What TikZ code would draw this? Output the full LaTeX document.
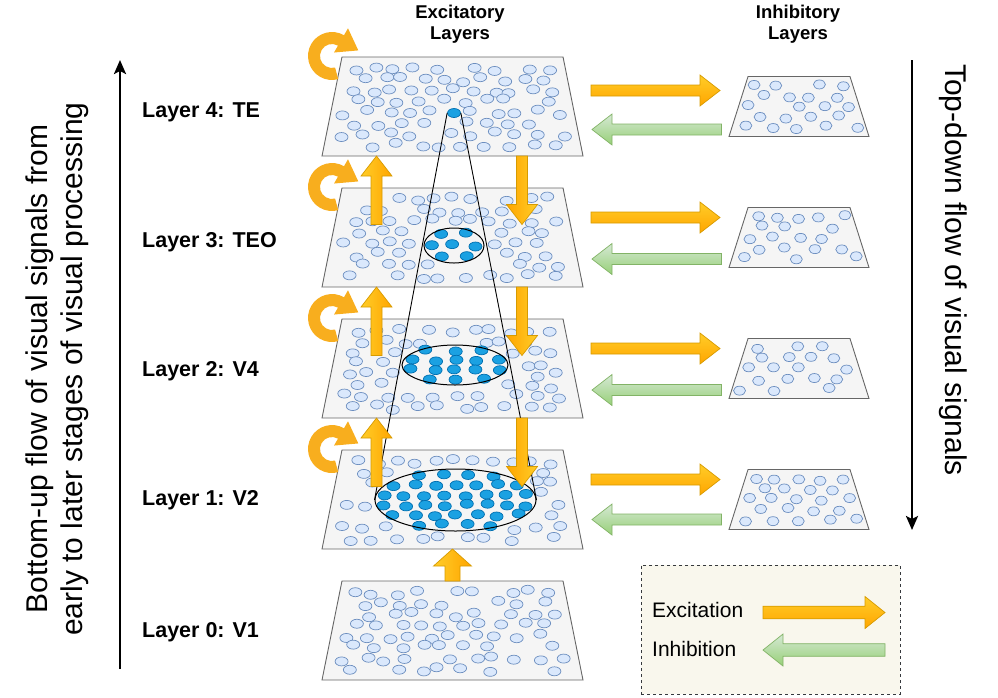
\documentclass[tikz,border=0pt]{standalone}
\usepackage{fontspec}
\setmainfont{Liberation Sans}
\usetikzlibrary{shapes.geometric, arrows.meta, positioning, calc}
\definecolor{planefill}{HTML}{F5F5F5}
\definecolor{planeline}{HTML}{666666}
\definecolor{cellfill}{HTML}{DAE8FC}
\definecolor{cellline}{HTML}{6C8EBF}
\definecolor{hotfill}{HTML}{1BA1E2}
\definecolor{hotline}{HTML}{006EAF}
\definecolor{exlight}{HTML}{FFCD28}
\definecolor{exdark}{HTML}{FFA500}
\definecolor{exline}{HTML}{D79B00}
\definecolor{inhlight}{HTML}{D5E8D4}
\definecolor{inhdark}{HTML}{97D077}
\definecolor{inhline}{HTML}{82B366}
\definecolor{loopgold}{HTML}{F8AE1E}
\definecolor{legendfill}{HTML}{F9F7ED}
\definecolor{legendline}{HTML}{36393D}

% block arrow from #2 to #3
\def\shaftw{5.5pt}\def\headw{15.5pt}\def\headl{20pt}
\newcommand{\fatarrow}[3][excite]{%
  \coordinate (fah) at ($(#3)!\headl!(#2)$);
  \draw[#1] ($(#2)!\shaftw!90:(#3)$) -- ($(fah)!\shaftw!90:(#3)$) -- ($(fah)!\headw!90:(#3)$) -- (#3)
    -- ($(fah)!\headw!-90:(#3)$) -- ($(fah)!\shaftw!-90:(#3)$) -- ($(#2)!\shaftw!-90:(#3)$) -- cycle;}

% curved self arrow
\newcommand{\selfloop}[1]{%
  \fill[loopfill, shift={#1}] (75:24) arc[start angle=75, end angle=300, radius=24] -- (300:32)
    -- ($(300:18)+(17.3,10)$) -- (300:4) -- (300:12) arc[start angle=300, end angle=75, radius=12] -- cycle;}

% neurons of an excitatory layer: cx, top, focus cx, focus cy, rx, ry, seed
\newcommand{\planedots}[7]{%
  \pgfmathsetseed{#7}
  \foreach \row in {0,...,7} {
    \foreach \col in {0,...,10} {
      \pgfmathsetmacro{\py}{#2+11.5+\row*11+3*rand}
      \pgfmathsetmacro{\hw}{93.5+20*(\py-#2)/99}
      \pgfmathsetmacro{\px}{#1-\hw+(\col+0.5*mod(\row,2))*\hw/5+5*rand}
      \pgfmathsetmacro{\ux}{(\px-#3)/100}
      \pgfmathsetmacro{\uy}{(\py-#4)/100}
      \pgfmathsetmacro{\ax}{(#5+7)/100}
      \pgfmathsetmacro{\ay}{(#6+5)/100}
      \pgfmathtruncatemacro{\clear}{(\ux*\ux*\ay*\ay+\uy*\uy*\ax*\ax>\ax*\ax*\ay*\ay)*(1-and(mod(\row,2)==1,\col==10))}
      \pgfmathtruncatemacro{\keep}{rnd<0.88}
      \ifnum\clear\keep=11 \draw[cell] (\px,\py) ellipse[x radius=6.5, y radius=4.5]; \fi
    }
  }}

% active neurons inside a receptive field: cx, cy, rx, ry, seed
\newcommand{\hotdots}[5]{%
  \pgfmathsetseed{#5}
  \pgfmathtruncatemacro{\nr}{floor(2*(#4-6)/9)+1}
  \pgfmathsetmacro{\rs}{2*(#4-6)/(\nr-1)}
  \foreach \row in {1,...,\nr} {
    \pgfmathsetmacro{\dy}{-(#4-6)+(\row-1)*\rs}
    \pgfmathsetmacro{\hw}{(#3-9)*sqrt(max(0,1-(\dy/(#4-2))^2))}
    \pgfmathtruncatemacro{\nc}{floor(2*\hw/19)+1}
    \pgfmathsetmacro{\cs}{2*\hw/max(\nc-1,1)}
    \foreach \col in {1,...,\nc} {
      \pgfmathsetmacro{\px}{#1+((\col-1)-(\nc-1)/2)*\cs+2.5*rand}
      \pgfmathsetmacro{\py}{#2+\dy+1.5*rand}
      \draw[hotcell] (\px,\py) ellipse[x radius=6.5, y radius=4.5];
    }
  }}

% neurons of an inhibitory layer: cx, top, seed
\newcommand{\inhibdots}[3]{%
  \pgfmathsetseed{#3}
  \foreach \row in {0,...,4} {
    \foreach \col in {0,...,4} {
      \pgfmathsetmacro{\py}{#2+9.5+\row*10.3+2*rand}
      \pgfmathsetmacro{\hw}{40+19*(\py-#2)/60}
      \pgfmathsetmacro{\px}{#1-\hw+(\col+0.5*mod(\row,2))*\hw/2+3.5*rand}
      \pgfmathtruncatemacro{\keep}{(rnd<0.85)*(1-and(mod(\row,2)==1,\col==4))}
      \ifnum\keep=1 \draw[cell] (\px,\py) ellipse[x radius=6, y radius=4.5]; \fi
    }
  }}

\begin{document}
\begin{tikzpicture}[
    x=1pt, y=-1pt,
    plane/.style={trapezium, trapezium left angle=78.6, trapezium right angle=78.6, trapezium stretches body, minimum width=261pt, inner xsep=0pt, inner ysep=49.5pt, outer sep=0pt, draw=planeline, fill=planefill, line width=0.9pt},
    smallplane/.style={plane, trapezium left angle=72.4, trapezium right angle=72.4, minimum width=140pt, inner ysep=30pt},
    cell/.style={draw=cellline, fill=cellfill, line width=0.7pt},
    hotcell/.style={draw=hotline, fill=hotfill, line width=0.7pt},
    hotspot/.style={ellipse, draw=hotline, fill=hotfill, line width=0.7pt, minimum width=13pt, minimum height=9pt, inner sep=0pt},
    roi/.style={ellipse, draw=black, line width=1pt, inner sep=0pt},
    cone/.style={draw=black, line width=0.9pt},
    excite/.style={draw=exline, line width=0.7pt, top color=exlight, bottom color=exdark},
    exciteup/.style={draw=exline, line width=0.7pt, left color=exlight, right color=exdark},
    excitedown/.style={draw=exline, line width=0.7pt, left color=exdark, right color=exlight},
    inhibit/.style={draw=inhline, line width=0.7pt, top color=inhlight, bottom color=inhdark},
    loopfill/.style={fill=loopgold},
    flow/.style={-{Stealth[length=14pt, width=12pt, inset=3pt]}, line width=2.5pt},
    layerlabel/.style={font=\fontsize{21.5}{26}\selectfont\bfseries, anchor=base west, inner sep=0pt},
    header/.style={font=\fontsize{18.5}{21}\selectfont\bfseries, align=center, inner sep=0pt},
    flowtext/.style={font=\fontsize{30}{35}\selectfont, align=center, inner sep=0pt},
    legendbox/.style={draw=legendline, fill=legendfill, dash pattern=on 3pt off 3pt, line width=0.8pt, minimum width=259pt, minimum height=129pt, inner sep=0pt},
    legendtext/.style={font=\fontsize{21}{25}\selectfont, anchor=base west, inner sep=0pt}
]
\useasboundingbox (0,0) rectangle (998,697);

% Excitatory layers
\node[plane] (L4) at (452.5,106.5) {};
\node[plane, below=32pt of L4] (L3) {};
\node[plane, below=32pt of L3] (L2) {};
\node[plane, below=32pt of L2] (L1) {};
\node[plane, below=32pt of L1] (L0) {};
\planedots{452.5}{57}{454}{113}{7}{5}{11}
\planedots{452.5}{188}{454}{245.5}{30}{17.5}{23}
\planedots{452.5}{319}{455}{365}{53}{20}{37}
\planedots{452.5}{450}{455.5}{500}{80.5}{31}{41}
\planedots{452.5}{581}{0}{0}{0}{0}{53}

% Inhibitory layers
\node[smallplane] (I4) at ($(L4.center)+(346.5,0)$) {};
\node[smallplane] (I3) at ($(L3.center)+(346.5,0)$) {};
\node[smallplane] (I2) at ($(L2.center)+(346.5,0)$) {};
\node[smallplane] (I1) at ($(L1.center)+(346.5,0)$) {};
\inhibdots{799}{76.5}{61}
\inhibdots{799}{207.5}{67}
\inhibdots{799}{338.5}{71}
\inhibdots{799}{469.5}{79}

% Receptive fields
\hotdots{454}{245.5}{30}{17.5}{5}
\hotdots{455}{365}{53}{20}{6}
\hotdots{455.5}{500}{80.5}{31}{7}
\node[hotspot] (focus) at (454,113) {};
\node[roi, minimum width=60pt, minimum height=35pt] (roi3) at (454,245.5) {};
\node[roi, minimum width=106pt, minimum height=40pt] (roi2) at (455,365) {};
\node[roi, minimum width=161pt, minimum height=62pt] (roi1) at (455.5,500) {};
\draw[cone] (focus.west) -- (roi1.west);
\draw[cone] (focus.east) -- (roi1.east);

% Arrows between layers
\foreach \u/\d in {4/3, 3/2, 2/1} {
  \coordinate (ups\d) at ($(L\d.center)+(-76,-13)$);
  \coordinate (upt\d) at ($(L\u.south)+(-76,0)$);
  \coordinate (dns\u) at ($(L\u.south)+(69.5,0)$);
  \coordinate (dnt\u) at ($(L\d.center)+(69.5,-13)$);
  \fatarrow[exciteup]{ups\d}{upt\d}
  \fatarrow[excitedown]{dns\u}{dnt\u}
}
{\def\shaftw{7.5pt}\def\headw{19pt}\def\headl{17pt}
\fatarrow[exciteup]{L0.north}{L1.south}}

\foreach \l/\eo/\io in {4/-16/23, 3/-20/21.5, 2/-20/21.5, 1/-20/20} {
  \coordinate (exs\l) at ($(L\l.center)+(138.5,\eo)$);
  \coordinate (ext\l) at ($(L\l.center)+(267.5,\eo)$);
  \coordinate (ins\l) at ($(L\l.center)+(269,\io)$);
  \coordinate (int\l) at ($(L\l.center)+(139.5,\io)$);
  \fatarrow[excite]{exs\l}{ext\l}
  \fatarrow[inhibit]{ins\l}{int\l}
  \selfloop{($(L\l.north)+(-120.5,-1)$)}
}

% Labels
\node[header] (exhead) at (460,24.5) {Excitatory\\Layers};
\node[header] (inhead) at (798,24.5) {Inhibitory\\Layers};
\node[layerlabel] (lab4) at (142,117.5) {Layer 4: TE};
\node[layerlabel] (lab3) at (142,247) {Layer 3: TEO};
\node[layerlabel] (lab2) at (142,376) {Layer 2: V4};
\node[layerlabel] (lab1) at (142,505) {Layer 1: V2};
\node[layerlabel] (lab0) at (142,637) {Layer 0: V1};

% Flow directions
\coordinate (butail) at (120,669);
\coordinate (buhead) at (120,60);
\coordinate (tdtail) at (912,60);
\coordinate (tdhead) at (912,530);
\draw[flow] (butail) -- (buhead);
\draw[flow] (tdtail) -- (tdhead);
\node[flowtext, rotate=90] (butext) at (57.5,369) {Bottom-up flow of visual signals from\\early to later stages of visual processing};
\node[flowtext, rotate=-90] (tdtext) at (953,270) {Top-down flow of visual signals};

% Legend
\node[legendbox] (legend) at (770.5,629.5) {};
\node[legendtext] (extxt) at (652,617.5) {Excitation};
\node[legendtext] (inhtxt) at (652,656.5) {Inhibition};
\coordinate (legexs) at (763,612.5);
\coordinate (legext) at (885,612.5);
\coordinate (legins) at (885,650);
\coordinate (legint) at (763,650);
{\def\shaftw{6.3pt}\def\headw{16pt}
\fatarrow[excite]{legexs}{legext}
\fatarrow[inhibit]{legins}{legint}}

\end{tikzpicture}
\end{document}
